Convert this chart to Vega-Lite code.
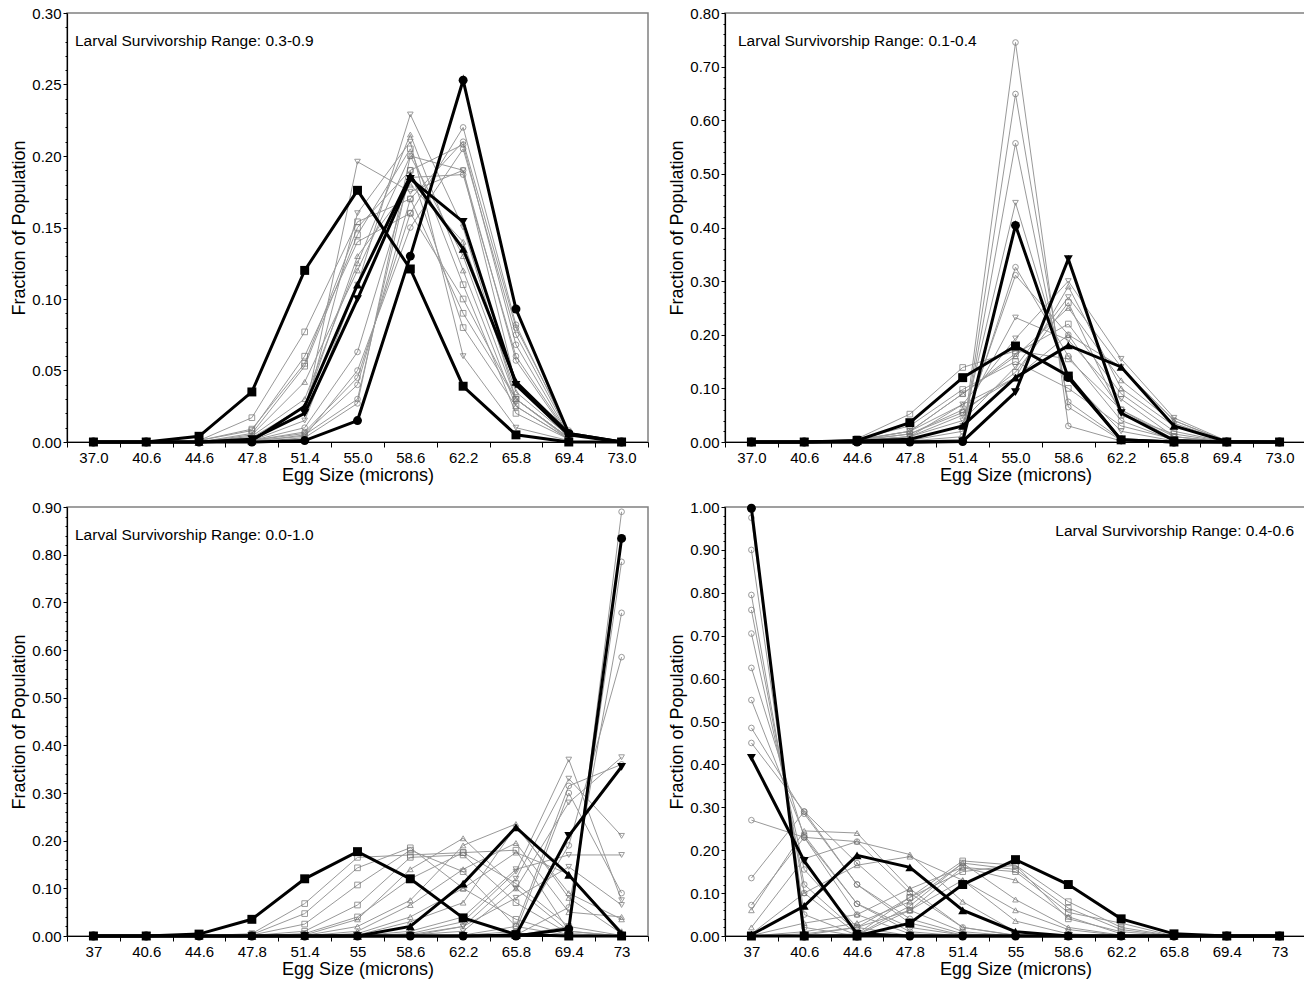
{
"$schema": "https://vega.github.io/schema/vega-lite/v6.json",
"padding": {"left": 10, "top": 5, "right": 0, "bottom": 0},
"autosize": {"type": "pad"},
"background": "white",
"config": {
  "font": "Liberation Sans",
  "view": {"stroke": "#808080", "strokeWidth": 1.5},
  "axis": {"grid": false, "labelFont": "Liberation Sans", "titleFont": "Liberation Sans", "labelFontSize": 15, "titleFontSize": 18, "titleFontWeight": "normal", "labelColor": "black", "titleColor": "black", "domainColor": "black", "tickColor": "black", "domainWidth": 1.2},
  "title": {"font": "Liberation Sans", "fontSize": 15.5, "fontWeight": "normal", "color": "black"}
},
"datasets": {
"TL": [
{"s":"g1","k":"g","m":"c","x":"44.6","y":0},{"s":"g1","k":"g","m":"c","x":"47.8","y":0.001},{"s":"g1","k":"g","m":"c","x":"51.4","y":0.007},{"s":"g1","k":"g","m":"c","x":"55.0","y":0.045},{"s":"g1","k":"g","m":"c","x":"58.6","y":0.16},{"s":"g1","k":"g","m":"c","x":"62.2","y":0.22},{"s":"g1","k":"g","m":"c","x":"65.8","y":0.082},{"s":"g1","k":"g","m":"c","x":"69.4","y":0.006},
{"s":"g2","k":"g","m":"c","x":"44.6","y":0},{"s":"g2","k":"g","m":"c","x":"47.8","y":0.001},{"s":"g2","k":"g","m":"c","x":"51.4","y":0.006},{"s":"g2","k":"g","m":"c","x":"55.0","y":0.04},{"s":"g2","k":"g","m":"c","x":"58.6","y":0.17},{"s":"g2","k":"g","m":"c","x":"62.2","y":0.21},{"s":"g2","k":"g","m":"c","x":"65.8","y":0.08},{"s":"g2","k":"g","m":"c","x":"69.4","y":0.008},
{"s":"g3","k":"g","m":"c","x":"44.6","y":0},{"s":"g3","k":"g","m":"c","x":"47.8","y":0},{"s":"g3","k":"g","m":"c","x":"51.4","y":0.005},{"s":"g3","k":"g","m":"c","x":"55.0","y":0.03},{"s":"g3","k":"g","m":"c","x":"58.6","y":0.19},{"s":"g3","k":"g","m":"c","x":"62.2","y":0.208},{"s":"g3","k":"g","m":"c","x":"65.8","y":0.068},{"s":"g3","k":"g","m":"c","x":"69.4","y":0.005},
{"s":"g4","k":"g","m":"c","x":"44.6","y":0},{"s":"g4","k":"g","m":"c","x":"47.8","y":0},{"s":"g4","k":"g","m":"c","x":"51.4","y":0.003},{"s":"g4","k":"g","m":"c","x":"55.0","y":0.027},{"s":"g4","k":"g","m":"c","x":"58.6","y":0.2},{"s":"g4","k":"g","m":"c","x":"62.2","y":0.19},{"s":"g4","k":"g","m":"c","x":"65.8","y":0.057},{"s":"g4","k":"g","m":"c","x":"69.4","y":0.004},
{"s":"g5","k":"g","m":"c","x":"44.6","y":0},{"s":"g5","k":"g","m":"c","x":"47.8","y":0.001},{"s":"g5","k":"g","m":"c","x":"51.4","y":0.01},{"s":"g5","k":"g","m":"c","x":"55.0","y":0.063},{"s":"g5","k":"g","m":"c","x":"58.6","y":0.185},{"s":"g5","k":"g","m":"c","x":"62.2","y":0.187},{"s":"g5","k":"g","m":"c","x":"65.8","y":0.06},{"s":"g5","k":"g","m":"c","x":"69.4","y":0.005},
{"s":"g6","k":"g","m":"c","x":"44.6","y":0},{"s":"g6","k":"g","m":"c","x":"47.8","y":0.001},{"s":"g6","k":"g","m":"c","x":"51.4","y":0.004},{"s":"g6","k":"g","m":"c","x":"55.0","y":0.05},{"s":"g6","k":"g","m":"c","x":"58.6","y":0.15},{"s":"g6","k":"g","m":"c","x":"62.2","y":0.205},{"s":"g6","k":"g","m":"c","x":"65.8","y":0.075},{"s":"g6","k":"g","m":"c","x":"69.4","y":0.006},
{"s":"g7","k":"g","m":"s","x":"44.6","y":0.001},{"s":"g7","k":"g","m":"s","x":"47.8","y":0.017},{"s":"g7","k":"g","m":"s","x":"51.4","y":0.077},{"s":"g7","k":"g","m":"s","x":"55.0","y":0.154},{"s":"g7","k":"g","m":"s","x":"58.6","y":0.17},{"s":"g7","k":"g","m":"s","x":"62.2","y":0.09},{"s":"g7","k":"g","m":"s","x":"65.8","y":0.03},{"s":"g7","k":"g","m":"s","x":"69.4","y":0.003},
{"s":"g8","k":"g","m":"s","x":"44.6","y":0.001},{"s":"g8","k":"g","m":"s","x":"47.8","y":0.009},{"s":"g8","k":"g","m":"s","x":"51.4","y":0.055},{"s":"g8","k":"g","m":"s","x":"55.0","y":0.15},{"s":"g8","k":"g","m":"s","x":"58.6","y":0.19},{"s":"g8","k":"g","m":"s","x":"62.2","y":0.08},{"s":"g8","k":"g","m":"s","x":"65.8","y":0.025},{"s":"g8","k":"g","m":"s","x":"69.4","y":0.002},
{"s":"g9","k":"g","m":"s","x":"44.6","y":0},{"s":"g9","k":"g","m":"s","x":"47.8","y":0.006},{"s":"g9","k":"g","m":"s","x":"51.4","y":0.053},{"s":"g9","k":"g","m":"s","x":"55.0","y":0.145},{"s":"g9","k":"g","m":"s","x":"58.6","y":0.205},{"s":"g9","k":"g","m":"s","x":"62.2","y":0.11},{"s":"g9","k":"g","m":"s","x":"65.8","y":0.02},{"s":"g9","k":"g","m":"s","x":"69.4","y":0.002},
{"s":"g10","k":"g","m":"s","x":"44.6","y":0.001},{"s":"g10","k":"g","m":"s","x":"47.8","y":0.008},{"s":"g10","k":"g","m":"s","x":"51.4","y":0.06},{"s":"g10","k":"g","m":"s","x":"55.0","y":0.14},{"s":"g10","k":"g","m":"s","x":"58.6","y":0.16},{"s":"g10","k":"g","m":"s","x":"62.2","y":0.1},{"s":"g10","k":"g","m":"s","x":"65.8","y":0.03},{"s":"g10","k":"g","m":"s","x":"69.4","y":0.003},
{"s":"g11","k":"g","m":"tu","x":"44.6","y":0},{"s":"g11","k":"g","m":"tu","x":"47.8","y":0.005},{"s":"g11","k":"g","m":"tu","x":"51.4","y":0.042},{"s":"g11","k":"g","m":"tu","x":"55.0","y":0.12},{"s":"g11","k":"g","m":"tu","x":"58.6","y":0.2},{"s":"g11","k":"g","m":"tu","x":"62.2","y":0.13},{"s":"g11","k":"g","m":"tu","x":"65.8","y":0.03},{"s":"g11","k":"g","m":"tu","x":"69.4","y":0.003},
{"s":"g12","k":"g","m":"tu","x":"44.6","y":0},{"s":"g12","k":"g","m":"tu","x":"47.8","y":0.004},{"s":"g12","k":"g","m":"tu","x":"51.4","y":0.03},{"s":"g12","k":"g","m":"tu","x":"55.0","y":0.125},{"s":"g12","k":"g","m":"tu","x":"58.6","y":0.215},{"s":"g12","k":"g","m":"tu","x":"62.2","y":0.12},{"s":"g12","k":"g","m":"tu","x":"65.8","y":0.025},{"s":"g12","k":"g","m":"tu","x":"69.4","y":0.002},
{"s":"g13","k":"g","m":"tu","x":"44.6","y":0},{"s":"g13","k":"g","m":"tu","x":"47.8","y":0.003},{"s":"g13","k":"g","m":"tu","x":"51.4","y":0.025},{"s":"g13","k":"g","m":"tu","x":"55.0","y":0.13},{"s":"g13","k":"g","m":"tu","x":"58.6","y":0.18},{"s":"g13","k":"g","m":"tu","x":"62.2","y":0.14},{"s":"g13","k":"g","m":"tu","x":"65.8","y":0.035},{"s":"g13","k":"g","m":"tu","x":"69.4","y":0.004},
{"s":"g14","k":"g","m":"td","x":"44.6","y":0},{"s":"g14","k":"g","m":"td","x":"47.8","y":0.003},{"s":"g14","k":"g","m":"td","x":"51.4","y":0.02},{"s":"g14","k":"g","m":"td","x":"55.0","y":0.196},{"s":"g14","k":"g","m":"td","x":"58.6","y":0.175},{"s":"g14","k":"g","m":"td","x":"62.2","y":0.19},{"s":"g14","k":"g","m":"td","x":"65.8","y":0.04},{"s":"g14","k":"g","m":"td","x":"69.4","y":0.003},
{"s":"g15","k":"g","m":"td","x":"44.6","y":0},{"s":"g15","k":"g","m":"td","x":"47.8","y":0.001},{"s":"g15","k":"g","m":"td","x":"51.4","y":0.015},{"s":"g15","k":"g","m":"td","x":"55.0","y":0.11},{"s":"g15","k":"g","m":"td","x":"58.6","y":0.229},{"s":"g15","k":"g","m":"td","x":"62.2","y":0.15},{"s":"g15","k":"g","m":"td","x":"65.8","y":0.03},{"s":"g15","k":"g","m":"td","x":"69.4","y":0.002},
{"s":"g16","k":"g","m":"td","x":"44.6","y":0},{"s":"g16","k":"g","m":"td","x":"47.8","y":0.002},{"s":"g16","k":"g","m":"td","x":"51.4","y":0.02},{"s":"g16","k":"g","m":"td","x":"55.0","y":0.16},{"s":"g16","k":"g","m":"td","x":"58.6","y":0.21},{"s":"g16","k":"g","m":"td","x":"62.2","y":0.06},{"s":"g16","k":"g","m":"td","x":"65.8","y":0.01},{"s":"g16","k":"g","m":"td","x":"69.4","y":0.001},
{"s":"Btd","k":"b","m":"td","x":"37.0","y":0},{"s":"Btd","k":"b","m":"td","x":"40.6","y":0},{"s":"Btd","k":"b","m":"td","x":"44.6","y":0},{"s":"Btd","k":"b","m":"td","x":"47.8","y":0.002},{"s":"Btd","k":"b","m":"td","x":"51.4","y":0.02},{"s":"Btd","k":"b","m":"td","x":"55.0","y":0.1},{"s":"Btd","k":"b","m":"td","x":"58.6","y":0.184},{"s":"Btd","k":"b","m":"td","x":"62.2","y":0.154},{"s":"Btd","k":"b","m":"td","x":"65.8","y":0.04},{"s":"Btd","k":"b","m":"td","x":"69.4","y":0.005},{"s":"Btd","k":"b","m":"td","x":"73.0","y":0},
{"s":"Btu","k":"b","m":"tu","x":"37.0","y":0},{"s":"Btu","k":"b","m":"tu","x":"40.6","y":0},{"s":"Btu","k":"b","m":"tu","x":"44.6","y":0},{"s":"Btu","k":"b","m":"tu","x":"47.8","y":0.001},{"s":"Btu","k":"b","m":"tu","x":"51.4","y":0.025},{"s":"Btu","k":"b","m":"tu","x":"55.0","y":0.11},{"s":"Btu","k":"b","m":"tu","x":"58.6","y":0.186},{"s":"Btu","k":"b","m":"tu","x":"62.2","y":0.135},{"s":"Btu","k":"b","m":"tu","x":"65.8","y":0.042},{"s":"Btu","k":"b","m":"tu","x":"69.4","y":0.006},{"s":"Btu","k":"b","m":"tu","x":"73.0","y":0},
{"s":"Bci","k":"b","m":"c","x":"37.0","y":0},{"s":"Bci","k":"b","m":"c","x":"40.6","y":0},{"s":"Bci","k":"b","m":"c","x":"44.6","y":0},{"s":"Bci","k":"b","m":"c","x":"47.8","y":0},{"s":"Bci","k":"b","m":"c","x":"51.4","y":0.001},{"s":"Bci","k":"b","m":"c","x":"55.0","y":0.015},{"s":"Bci","k":"b","m":"c","x":"58.6","y":0.13},{"s":"Bci","k":"b","m":"c","x":"62.2","y":0.253},{"s":"Bci","k":"b","m":"c","x":"65.8","y":0.093},{"s":"Bci","k":"b","m":"c","x":"69.4","y":0.006},{"s":"Bci","k":"b","m":"c","x":"73.0","y":0},
{"s":"Bsq","k":"b","m":"s","x":"37.0","y":0},{"s":"Bsq","k":"b","m":"s","x":"40.6","y":0},{"s":"Bsq","k":"b","m":"s","x":"44.6","y":0.004},{"s":"Bsq","k":"b","m":"s","x":"47.8","y":0.035},{"s":"Bsq","k":"b","m":"s","x":"51.4","y":0.12},{"s":"Bsq","k":"b","m":"s","x":"55.0","y":0.176},{"s":"Bsq","k":"b","m":"s","x":"58.6","y":0.121},{"s":"Bsq","k":"b","m":"s","x":"62.2","y":0.039},{"s":"Bsq","k":"b","m":"s","x":"65.8","y":0.005},{"s":"Bsq","k":"b","m":"s","x":"69.4","y":0},{"s":"Bsq","k":"b","m":"s","x":"73.0","y":0}
],
"TR": [
{"s":"c1","k":"g","m":"c","x":"44.6","y":0},{"s":"c1","k":"g","m":"c","x":"47.8","y":0.001},{"s":"c1","k":"g","m":"c","x":"51.4","y":0.005},{"s":"c1","k":"g","m":"c","x":"55.0","y":0.745},{"s":"c1","k":"g","m":"c","x":"58.6","y":0.03},{"s":"c1","k":"g","m":"c","x":"62.2","y":0.002},{"s":"c1","k":"g","m":"c","x":"65.8","y":0},{"s":"c1","k":"g","m":"c","x":"69.4","y":0},
{"s":"c2","k":"g","m":"c","x":"44.6","y":0},{"s":"c2","k":"g","m":"c","x":"47.8","y":0.001},{"s":"c2","k":"g","m":"c","x":"51.4","y":0.004},{"s":"c2","k":"g","m":"c","x":"55.0","y":0.649},{"s":"c2","k":"g","m":"c","x":"58.6","y":0.065},{"s":"c2","k":"g","m":"c","x":"62.2","y":0.003},{"s":"c2","k":"g","m":"c","x":"65.8","y":0},{"s":"c2","k":"g","m":"c","x":"69.4","y":0},
{"s":"c3","k":"g","m":"c","x":"44.6","y":0},{"s":"c3","k":"g","m":"c","x":"47.8","y":0.002},{"s":"c3","k":"g","m":"c","x":"51.4","y":0.01},{"s":"c3","k":"g","m":"c","x":"55.0","y":0.557},{"s":"c3","k":"g","m":"c","x":"58.6","y":0.075},{"s":"c3","k":"g","m":"c","x":"62.2","y":0.005},{"s":"c3","k":"g","m":"c","x":"65.8","y":0},{"s":"c3","k":"g","m":"c","x":"69.4","y":0},
{"s":"c4","k":"g","m":"c","x":"44.6","y":0},{"s":"c4","k":"g","m":"c","x":"47.8","y":0.003},{"s":"c4","k":"g","m":"c","x":"51.4","y":0.02},{"s":"c4","k":"g","m":"c","x":"55.0","y":0.326},{"s":"c4","k":"g","m":"c","x":"58.6","y":0.16},{"s":"c4","k":"g","m":"c","x":"62.2","y":0.04},{"s":"c4","k":"g","m":"c","x":"65.8","y":0.003},{"s":"c4","k":"g","m":"c","x":"69.4","y":0},
{"s":"c5","k":"g","m":"c","x":"44.6","y":0},{"s":"c5","k":"g","m":"c","x":"47.8","y":0.004},{"s":"c5","k":"g","m":"c","x":"51.4","y":0.03},{"s":"c5","k":"g","m":"c","x":"55.0","y":0.311},{"s":"c5","k":"g","m":"c","x":"58.6","y":0.2},{"s":"c5","k":"g","m":"c","x":"62.2","y":0.06},{"s":"c5","k":"g","m":"c","x":"65.8","y":0.005},{"s":"c5","k":"g","m":"c","x":"69.4","y":0},
{"s":"d1","k":"g","m":"td","x":"44.6","y":0.001},{"s":"d1","k":"g","m":"td","x":"47.8","y":0.005},{"s":"d1","k":"g","m":"td","x":"51.4","y":0.03},{"s":"d1","k":"g","m":"td","x":"55.0","y":0.446},{"s":"d1","k":"g","m":"td","x":"58.6","y":0.12},{"s":"d1","k":"g","m":"td","x":"62.2","y":0.02},{"s":"d1","k":"g","m":"td","x":"65.8","y":0.002},{"s":"d1","k":"g","m":"td","x":"69.4","y":0},
{"s":"d2","k":"g","m":"td","x":"44.6","y":0.002},{"s":"d2","k":"g","m":"td","x":"47.8","y":0.01},{"s":"d2","k":"g","m":"td","x":"51.4","y":0.05},{"s":"d2","k":"g","m":"td","x":"55.0","y":0.232},{"s":"d2","k":"g","m":"td","x":"58.6","y":0.19},{"s":"d2","k":"g","m":"td","x":"62.2","y":0.08},{"s":"d2","k":"g","m":"td","x":"65.8","y":0.01},{"s":"d2","k":"g","m":"td","x":"69.4","y":0},
{"s":"d3","k":"g","m":"td","x":"44.6","y":0.003},{"s":"d3","k":"g","m":"td","x":"47.8","y":0.02},{"s":"d3","k":"g","m":"td","x":"51.4","y":0.07},{"s":"d3","k":"g","m":"td","x":"55.0","y":0.193},{"s":"d3","k":"g","m":"td","x":"58.6","y":0.3},{"s":"d3","k":"g","m":"td","x":"62.2","y":0.155},{"s":"d3","k":"g","m":"td","x":"65.8","y":0.045},{"s":"d3","k":"g","m":"td","x":"69.4","y":0.002},
{"s":"d4","k":"g","m":"td","x":"44.6","y":0.002},{"s":"d4","k":"g","m":"td","x":"47.8","y":0.01},{"s":"d4","k":"g","m":"td","x":"51.4","y":0.04},{"s":"d4","k":"g","m":"td","x":"55.0","y":0.14},{"s":"d4","k":"g","m":"td","x":"58.6","y":0.27},{"s":"d4","k":"g","m":"td","x":"62.2","y":0.14},{"s":"d4","k":"g","m":"td","x":"65.8","y":0.04},{"s":"d4","k":"g","m":"td","x":"69.4","y":0.001},
{"s":"u1","k":"g","m":"tu","x":"44.6","y":0.004},{"s":"u1","k":"g","m":"tu","x":"47.8","y":0.02},{"s":"u1","k":"g","m":"tu","x":"51.4","y":0.09},{"s":"u1","k":"g","m":"tu","x":"55.0","y":0.16},{"s":"u1","k":"g","m":"tu","x":"58.6","y":0.25},{"s":"u1","k":"g","m":"tu","x":"62.2","y":0.115},{"s":"u1","k":"g","m":"tu","x":"65.8","y":0.035},{"s":"u1","k":"g","m":"tu","x":"69.4","y":0.001},
{"s":"u2","k":"g","m":"tu","x":"44.6","y":0.003},{"s":"u2","k":"g","m":"tu","x":"47.8","y":0.015},{"s":"u2","k":"g","m":"tu","x":"51.4","y":0.06},{"s":"u2","k":"g","m":"tu","x":"55.0","y":0.12},{"s":"u2","k":"g","m":"tu","x":"58.6","y":0.29},{"s":"u2","k":"g","m":"tu","x":"62.2","y":0.1},{"s":"u2","k":"g","m":"tu","x":"65.8","y":0.03},{"s":"u2","k":"g","m":"tu","x":"69.4","y":0},
{"s":"u3","k":"g","m":"tu","x":"44.6","y":0.002},{"s":"u3","k":"g","m":"tu","x":"47.8","y":0.01},{"s":"u3","k":"g","m":"tu","x":"51.4","y":0.07},{"s":"u3","k":"g","m":"tu","x":"55.0","y":0.12},{"s":"u3","k":"g","m":"tu","x":"58.6","y":0.2},{"s":"u3","k":"g","m":"tu","x":"62.2","y":0.14},{"s":"u3","k":"g","m":"tu","x":"65.8","y":0.04},{"s":"u3","k":"g","m":"tu","x":"69.4","y":0.001},
{"s":"q1","k":"g","m":"s","x":"44.6","y":0.006},{"s":"q1","k":"g","m":"s","x":"47.8","y":0.052},{"s":"q1","k":"g","m":"s","x":"51.4","y":0.139},{"s":"q1","k":"g","m":"s","x":"55.0","y":0.17},{"s":"q1","k":"g","m":"s","x":"58.6","y":0.155},{"s":"q1","k":"g","m":"s","x":"62.2","y":0.06},{"s":"q1","k":"g","m":"s","x":"65.8","y":0.01},{"s":"q1","k":"g","m":"s","x":"69.4","y":0},
{"s":"q2","k":"g","m":"s","x":"44.6","y":0.005},{"s":"q2","k":"g","m":"s","x":"47.8","y":0.03},{"s":"q2","k":"g","m":"s","x":"51.4","y":0.098},{"s":"q2","k":"g","m":"s","x":"55.0","y":0.15},{"s":"q2","k":"g","m":"s","x":"58.6","y":0.1},{"s":"q2","k":"g","m":"s","x":"62.2","y":0.03},{"s":"q2","k":"g","m":"s","x":"65.8","y":0.005},{"s":"q2","k":"g","m":"s","x":"69.4","y":0},
{"s":"q3","k":"g","m":"s","x":"44.6","y":0.004},{"s":"q3","k":"g","m":"s","x":"47.8","y":0.02},{"s":"q3","k":"g","m":"s","x":"51.4","y":0.09},{"s":"q3","k":"g","m":"s","x":"55.0","y":0.165},{"s":"q3","k":"g","m":"s","x":"58.6","y":0.22},{"s":"q3","k":"g","m":"s","x":"62.2","y":0.09},{"s":"q3","k":"g","m":"s","x":"65.8","y":0.02},{"s":"q3","k":"g","m":"s","x":"69.4","y":0},
{"s":"q4","k":"g","m":"s","x":"44.6","y":0.003},{"s":"q4","k":"g","m":"s","x":"47.8","y":0.015},{"s":"q4","k":"g","m":"s","x":"51.4","y":0.055},{"s":"q4","k":"g","m":"s","x":"55.0","y":0.13},{"s":"q4","k":"g","m":"s","x":"58.6","y":0.26},{"s":"q4","k":"g","m":"s","x":"62.2","y":0.05},{"s":"q4","k":"g","m":"s","x":"65.8","y":0.015},{"s":"q4","k":"g","m":"s","x":"69.4","y":0},
{"s":"Btu","k":"b","m":"tu","x":"37.0","y":0},{"s":"Btu","k":"b","m":"tu","x":"40.6","y":0},{"s":"Btu","k":"b","m":"tu","x":"44.6","y":0.002},{"s":"Btu","k":"b","m":"tu","x":"47.8","y":0.005},{"s":"Btu","k":"b","m":"tu","x":"51.4","y":0.03},{"s":"Btu","k":"b","m":"tu","x":"55.0","y":0.12},{"s":"Btu","k":"b","m":"tu","x":"58.6","y":0.18},{"s":"Btu","k":"b","m":"tu","x":"62.2","y":0.14},{"s":"Btu","k":"b","m":"tu","x":"65.8","y":0.03},{"s":"Btu","k":"b","m":"tu","x":"69.4","y":0.001},{"s":"Btu","k":"b","m":"tu","x":"73.0","y":0},
{"s":"Btd","k":"b","m":"td","x":"37.0","y":0},{"s":"Btd","k":"b","m":"td","x":"40.6","y":0},{"s":"Btd","k":"b","m":"td","x":"44.6","y":0},{"s":"Btd","k":"b","m":"td","x":"47.8","y":0},{"s":"Btd","k":"b","m":"td","x":"51.4","y":0.001},{"s":"Btd","k":"b","m":"td","x":"55.0","y":0.093},{"s":"Btd","k":"b","m":"td","x":"58.6","y":0.341},{"s":"Btd","k":"b","m":"td","x":"62.2","y":0.054},{"s":"Btd","k":"b","m":"td","x":"65.8","y":0.003},{"s":"Btd","k":"b","m":"td","x":"69.4","y":0},{"s":"Btd","k":"b","m":"td","x":"73.0","y":0},
{"s":"Bci","k":"b","m":"c","x":"37.0","y":0},{"s":"Bci","k":"b","m":"c","x":"40.6","y":0},{"s":"Bci","k":"b","m":"c","x":"44.6","y":0},{"s":"Bci","k":"b","m":"c","x":"47.8","y":0},{"s":"Bci","k":"b","m":"c","x":"51.4","y":0.001},{"s":"Bci","k":"b","m":"c","x":"55.0","y":0.404},{"s":"Bci","k":"b","m":"c","x":"58.6","y":0.12},{"s":"Bci","k":"b","m":"c","x":"62.2","y":0.004},{"s":"Bci","k":"b","m":"c","x":"65.8","y":0},{"s":"Bci","k":"b","m":"c","x":"69.4","y":0},{"s":"Bci","k":"b","m":"c","x":"73.0","y":0},
{"s":"Bsq","k":"b","m":"s","x":"37.0","y":0},{"s":"Bsq","k":"b","m":"s","x":"40.6","y":0},{"s":"Bsq","k":"b","m":"s","x":"44.6","y":0.003},{"s":"Bsq","k":"b","m":"s","x":"47.8","y":0.036},{"s":"Bsq","k":"b","m":"s","x":"51.4","y":0.12},{"s":"Bsq","k":"b","m":"s","x":"55.0","y":0.179},{"s":"Bsq","k":"b","m":"s","x":"58.6","y":0.123},{"s":"Bsq","k":"b","m":"s","x":"62.2","y":0.004},{"s":"Bsq","k":"b","m":"s","x":"65.8","y":0},{"s":"Bsq","k":"b","m":"s","x":"69.4","y":0},{"s":"Bsq","k":"b","m":"s","x":"73.0","y":0}
],
"BL": [
{"s":"q1","k":"g","m":"s","x":"44.6","y":0},{"s":"q1","k":"g","m":"s","x":"47.8","y":0.005},{"s":"q1","k":"g","m":"s","x":"51.4","y":0.068},{"s":"q1","k":"g","m":"s","x":"55","y":0.165},{"s":"q1","k":"g","m":"s","x":"58.6","y":0.17},{"s":"q1","k":"g","m":"s","x":"62.2","y":0.175},{"s":"q1","k":"g","m":"s","x":"65.8","y":0.18},{"s":"q1","k":"g","m":"s","x":"69.4","y":0.01},{"s":"q1","k":"g","m":"s","x":"73","y":0},
{"s":"q2","k":"g","m":"s","x":"44.6","y":0},{"s":"q2","k":"g","m":"s","x":"47.8","y":0.003},{"s":"q2","k":"g","m":"s","x":"51.4","y":0.047},{"s":"q2","k":"g","m":"s","x":"55","y":0.143},{"s":"q2","k":"g","m":"s","x":"58.6","y":0.185},{"s":"q2","k":"g","m":"s","x":"62.2","y":0.1},{"s":"q2","k":"g","m":"s","x":"65.8","y":0.035},{"s":"q2","k":"g","m":"s","x":"69.4","y":0.002},{"s":"q2","k":"g","m":"s","x":"73","y":0},
{"s":"q3","k":"g","m":"s","x":"44.6","y":0},{"s":"q3","k":"g","m":"s","x":"47.8","y":0.002},{"s":"q3","k":"g","m":"s","x":"51.4","y":0.025},{"s":"q3","k":"g","m":"s","x":"55","y":0.107},{"s":"q3","k":"g","m":"s","x":"58.6","y":0.18},{"s":"q3","k":"g","m":"s","x":"62.2","y":0.135},{"s":"q3","k":"g","m":"s","x":"65.8","y":0.02},{"s":"q3","k":"g","m":"s","x":"69.4","y":0.001},{"s":"q3","k":"g","m":"s","x":"73","y":0},
{"s":"q4","k":"g","m":"s","x":"44.6","y":0},{"s":"q4","k":"g","m":"s","x":"47.8","y":0.001},{"s":"q4","k":"g","m":"s","x":"51.4","y":0.01},{"s":"q4","k":"g","m":"s","x":"55","y":0.065},{"s":"q4","k":"g","m":"s","x":"58.6","y":0.165},{"s":"q4","k":"g","m":"s","x":"62.2","y":0.17},{"s":"q4","k":"g","m":"s","x":"65.8","y":0.07},{"s":"q4","k":"g","m":"s","x":"69.4","y":0.005},{"s":"q4","k":"g","m":"s","x":"73","y":0},
{"s":"q5","k":"g","m":"s","x":"44.6","y":0},{"s":"q5","k":"g","m":"s","x":"47.8","y":0},{"s":"q5","k":"g","m":"s","x":"51.4","y":0.005},{"s":"q5","k":"g","m":"s","x":"55","y":0.04},{"s":"q5","k":"g","m":"s","x":"58.6","y":0.12},{"s":"q5","k":"g","m":"s","x":"62.2","y":0.175},{"s":"q5","k":"g","m":"s","x":"65.8","y":0.11},{"s":"q5","k":"g","m":"s","x":"69.4","y":0.02},{"s":"q5","k":"g","m":"s","x":"73","y":0.001},
{"s":"u1","k":"g","m":"tu","x":"44.6","y":0},{"s":"u1","k":"g","m":"tu","x":"47.8","y":0},{"s":"u1","k":"g","m":"tu","x":"51.4","y":0.002},{"s":"u1","k":"g","m":"tu","x":"55","y":0.035},{"s":"u1","k":"g","m":"tu","x":"58.6","y":0.14},{"s":"u1","k":"g","m":"tu","x":"62.2","y":0.205},{"s":"u1","k":"g","m":"tu","x":"65.8","y":0.1},{"s":"u1","k":"g","m":"tu","x":"69.4","y":0.01},{"s":"u1","k":"g","m":"tu","x":"73","y":0},
{"s":"u2","k":"g","m":"tu","x":"44.6","y":0},{"s":"u2","k":"g","m":"tu","x":"47.8","y":0},{"s":"u2","k":"g","m":"tu","x":"51.4","y":0.001},{"s":"u2","k":"g","m":"tu","x":"55","y":0.02},{"s":"u2","k":"g","m":"tu","x":"58.6","y":0.075},{"s":"u2","k":"g","m":"tu","x":"62.2","y":0.19},{"s":"u2","k":"g","m":"tu","x":"65.8","y":0.235},{"s":"u2","k":"g","m":"tu","x":"69.4","y":0.08},{"s":"u2","k":"g","m":"tu","x":"73","y":0.005},
{"s":"u3","k":"g","m":"tu","x":"44.6","y":0},{"s":"u3","k":"g","m":"tu","x":"47.8","y":0},{"s":"u3","k":"g","m":"tu","x":"51.4","y":0},{"s":"u3","k":"g","m":"tu","x":"55","y":0.01},{"s":"u3","k":"g","m":"tu","x":"58.6","y":0.065},{"s":"u3","k":"g","m":"tu","x":"62.2","y":0.14},{"s":"u3","k":"g","m":"tu","x":"65.8","y":0.195},{"s":"u3","k":"g","m":"tu","x":"69.4","y":0.05},{"s":"u3","k":"g","m":"tu","x":"73","y":0.04},
{"s":"u4","k":"g","m":"tu","x":"44.6","y":0},{"s":"u4","k":"g","m":"tu","x":"47.8","y":0},{"s":"u4","k":"g","m":"tu","x":"51.4","y":0},{"s":"u4","k":"g","m":"tu","x":"55","y":0.005},{"s":"u4","k":"g","m":"tu","x":"58.6","y":0.04},{"s":"u4","k":"g","m":"tu","x":"62.2","y":0.1},{"s":"u4","k":"g","m":"tu","x":"65.8","y":0.175},{"s":"u4","k":"g","m":"tu","x":"69.4","y":0.13},{"s":"u4","k":"g","m":"tu","x":"73","y":0.01},
{"s":"u5","k":"g","m":"tu","x":"44.6","y":0},{"s":"u5","k":"g","m":"tu","x":"47.8","y":0},{"s":"u5","k":"g","m":"tu","x":"51.4","y":0},{"s":"u5","k":"g","m":"tu","x":"55","y":0.002},{"s":"u5","k":"g","m":"tu","x":"58.6","y":0.03},{"s":"u5","k":"g","m":"tu","x":"62.2","y":0.07},{"s":"u5","k":"g","m":"tu","x":"65.8","y":0.23},{"s":"u5","k":"g","m":"tu","x":"69.4","y":0.09},{"s":"u5","k":"g","m":"tu","x":"73","y":0.035},
{"s":"d1","k":"g","m":"td","x":"44.6","y":0},{"s":"d1","k":"g","m":"td","x":"47.8","y":0},{"s":"d1","k":"g","m":"td","x":"51.4","y":0},{"s":"d1","k":"g","m":"td","x":"55","y":0},{"s":"d1","k":"g","m":"td","x":"58.6","y":0.005},{"s":"d1","k":"g","m":"td","x":"62.2","y":0.03},{"s":"d1","k":"g","m":"td","x":"65.8","y":0.135},{"s":"d1","k":"g","m":"td","x":"69.4","y":0.37},{"s":"d1","k":"g","m":"td","x":"73","y":0.075},
{"s":"d2","k":"g","m":"td","x":"44.6","y":0},{"s":"d2","k":"g","m":"td","x":"47.8","y":0},{"s":"d2","k":"g","m":"td","x":"51.4","y":0},{"s":"d2","k":"g","m":"td","x":"55","y":0},{"s":"d2","k":"g","m":"td","x":"58.6","y":0.003},{"s":"d2","k":"g","m":"td","x":"62.2","y":0.02},{"s":"d2","k":"g","m":"td","x":"65.8","y":0.12},{"s":"d2","k":"g","m":"td","x":"69.4","y":0.33},{"s":"d2","k":"g","m":"td","x":"73","y":0.21},
{"s":"d3","k":"g","m":"td","x":"44.6","y":0},{"s":"d3","k":"g","m":"td","x":"47.8","y":0},{"s":"d3","k":"g","m":"td","x":"51.4","y":0},{"s":"d3","k":"g","m":"td","x":"55","y":0},{"s":"d3","k":"g","m":"td","x":"58.6","y":0.002},{"s":"d3","k":"g","m":"td","x":"62.2","y":0.01},{"s":"d3","k":"g","m":"td","x":"65.8","y":0.1},{"s":"d3","k":"g","m":"td","x":"69.4","y":0.28},{"s":"d3","k":"g","m":"td","x":"73","y":0.375},
{"s":"d4","k":"g","m":"td","x":"44.6","y":0},{"s":"d4","k":"g","m":"td","x":"47.8","y":0},{"s":"d4","k":"g","m":"td","x":"51.4","y":0},{"s":"d4","k":"g","m":"td","x":"55","y":0},{"s":"d4","k":"g","m":"td","x":"58.6","y":0.01},{"s":"d4","k":"g","m":"td","x":"62.2","y":0.04},{"s":"d4","k":"g","m":"td","x":"65.8","y":0.14},{"s":"d4","k":"g","m":"td","x":"69.4","y":0.17},{"s":"d4","k":"g","m":"td","x":"73","y":0.17},
{"s":"d5","k":"g","m":"td","x":"44.6","y":0},{"s":"d5","k":"g","m":"td","x":"47.8","y":0},{"s":"d5","k":"g","m":"td","x":"51.4","y":0},{"s":"d5","k":"g","m":"td","x":"55","y":0},{"s":"d5","k":"g","m":"td","x":"58.6","y":0},{"s":"d5","k":"g","m":"td","x":"62.2","y":0.02},{"s":"d5","k":"g","m":"td","x":"65.8","y":0.08},{"s":"d5","k":"g","m":"td","x":"69.4","y":0.145},{"s":"d5","k":"g","m":"td","x":"73","y":0.065},
{"s":"c1","k":"g","m":"c","x":"58.6","y":0},{"s":"c1","k":"g","m":"c","x":"62.2","y":0.002},{"s":"c1","k":"g","m":"c","x":"65.8","y":0.02},{"s":"c1","k":"g","m":"c","x":"69.4","y":0.315},{"s":"c1","k":"g","m":"c","x":"73","y":0.36},
{"s":"c2","k":"g","m":"c","x":"58.6","y":0},{"s":"c2","k":"g","m":"c","x":"62.2","y":0.001},{"s":"c2","k":"g","m":"c","x":"65.8","y":0.01},{"s":"c2","k":"g","m":"c","x":"69.4","y":0.3},{"s":"c2","k":"g","m":"c","x":"73","y":0.09},
{"s":"c3","k":"g","m":"c","x":"58.6","y":0},{"s":"c3","k":"g","m":"c","x":"62.2","y":0},{"s":"c3","k":"g","m":"c","x":"65.8","y":0.005},{"s":"c3","k":"g","m":"c","x":"69.4","y":0.19},{"s":"c3","k":"g","m":"c","x":"73","y":0.585},
{"s":"c4","k":"g","m":"c","x":"58.6","y":0},{"s":"c4","k":"g","m":"c","x":"62.2","y":0},{"s":"c4","k":"g","m":"c","x":"65.8","y":0.002},{"s":"c4","k":"g","m":"c","x":"69.4","y":0.06},{"s":"c4","k":"g","m":"c","x":"73","y":0.678},
{"s":"c5","k":"g","m":"c","x":"58.6","y":0},{"s":"c5","k":"g","m":"c","x":"62.2","y":0},{"s":"c5","k":"g","m":"c","x":"65.8","y":0.001},{"s":"c5","k":"g","m":"c","x":"69.4","y":0.02},{"s":"c5","k":"g","m":"c","x":"73","y":0.785},
{"s":"c6","k":"g","m":"c","x":"58.6","y":0},{"s":"c6","k":"g","m":"c","x":"62.2","y":0},{"s":"c6","k":"g","m":"c","x":"65.8","y":0},{"s":"c6","k":"g","m":"c","x":"69.4","y":0.005},{"s":"c6","k":"g","m":"c","x":"73","y":0.89},
{"s":"Btu","k":"b","m":"tu","x":"37","y":0},{"s":"Btu","k":"b","m":"tu","x":"40.6","y":0},{"s":"Btu","k":"b","m":"tu","x":"44.6","y":0},{"s":"Btu","k":"b","m":"tu","x":"47.8","y":0},{"s":"Btu","k":"b","m":"tu","x":"51.4","y":0},{"s":"Btu","k":"b","m":"tu","x":"55","y":0},{"s":"Btu","k":"b","m":"tu","x":"58.6","y":0.02},{"s":"Btu","k":"b","m":"tu","x":"62.2","y":0.11},{"s":"Btu","k":"b","m":"tu","x":"65.8","y":0.228},{"s":"Btu","k":"b","m":"tu","x":"69.4","y":0.128},{"s":"Btu","k":"b","m":"tu","x":"73","y":0.005},
{"s":"Btd","k":"b","m":"td","x":"37","y":0},{"s":"Btd","k":"b","m":"td","x":"40.6","y":0},{"s":"Btd","k":"b","m":"td","x":"44.6","y":0},{"s":"Btd","k":"b","m":"td","x":"47.8","y":0},{"s":"Btd","k":"b","m":"td","x":"51.4","y":0},{"s":"Btd","k":"b","m":"td","x":"55","y":0},{"s":"Btd","k":"b","m":"td","x":"58.6","y":0},{"s":"Btd","k":"b","m":"td","x":"62.2","y":0},{"s":"Btd","k":"b","m":"td","x":"65.8","y":0.002},{"s":"Btd","k":"b","m":"td","x":"69.4","y":0.21},{"s":"Btd","k":"b","m":"td","x":"73","y":0.355},
{"s":"Bci","k":"b","m":"c","x":"37","y":0},{"s":"Bci","k":"b","m":"c","x":"40.6","y":0},{"s":"Bci","k":"b","m":"c","x":"44.6","y":0},{"s":"Bci","k":"b","m":"c","x":"47.8","y":0},{"s":"Bci","k":"b","m":"c","x":"51.4","y":0},{"s":"Bci","k":"b","m":"c","x":"55","y":0},{"s":"Bci","k":"b","m":"c","x":"58.6","y":0},{"s":"Bci","k":"b","m":"c","x":"62.2","y":0},{"s":"Bci","k":"b","m":"c","x":"65.8","y":0},{"s":"Bci","k":"b","m":"c","x":"69.4","y":0.015},{"s":"Bci","k":"b","m":"c","x":"73","y":0.834},
{"s":"Bsq","k":"b","m":"s","x":"37","y":0},{"s":"Bsq","k":"b","m":"s","x":"40.6","y":0},{"s":"Bsq","k":"b","m":"s","x":"44.6","y":0.004},{"s":"Bsq","k":"b","m":"s","x":"47.8","y":0.035},{"s":"Bsq","k":"b","m":"s","x":"51.4","y":0.12},{"s":"Bsq","k":"b","m":"s","x":"55","y":0.177},{"s":"Bsq","k":"b","m":"s","x":"58.6","y":0.12},{"s":"Bsq","k":"b","m":"s","x":"62.2","y":0.038},{"s":"Bsq","k":"b","m":"s","x":"65.8","y":0.003},{"s":"Bsq","k":"b","m":"s","x":"69.4","y":0},{"s":"Bsq","k":"b","m":"s","x":"73","y":0}
],
"BR": [
{"s":"c1","k":"g","m":"c","x":"37","y":0.975},{"s":"c1","k":"g","m":"c","x":"40.6","y":0.02},{"s":"c1","k":"g","m":"c","x":"44.6","y":0},
{"s":"c2","k":"g","m":"c","x":"37","y":0.9},{"s":"c2","k":"g","m":"c","x":"40.6","y":0.05},{"s":"c2","k":"g","m":"c","x":"44.6","y":0.002},{"s":"c2","k":"g","m":"c","x":"47.8","y":0},
{"s":"c3","k":"g","m":"c","x":"37","y":0.795},{"s":"c3","k":"g","m":"c","x":"40.6","y":0.1},{"s":"c3","k":"g","m":"c","x":"44.6","y":0.005},{"s":"c3","k":"g","m":"c","x":"47.8","y":0},
{"s":"c4","k":"g","m":"c","x":"37","y":0.76},{"s":"c4","k":"g","m":"c","x":"40.6","y":0.12},{"s":"c4","k":"g","m":"c","x":"44.6","y":0.01},{"s":"c4","k":"g","m":"c","x":"47.8","y":0},
{"s":"c5","k":"g","m":"c","x":"37","y":0.705},{"s":"c5","k":"g","m":"c","x":"40.6","y":0.155},{"s":"c5","k":"g","m":"c","x":"44.6","y":0.02},{"s":"c5","k":"g","m":"c","x":"47.8","y":0.001},{"s":"c5","k":"g","m":"c","x":"51.4","y":0},
{"s":"c6","k":"g","m":"c","x":"37","y":0.625},{"s":"c6","k":"g","m":"c","x":"40.6","y":0.23},{"s":"c6","k":"g","m":"c","x":"44.6","y":0.05},{"s":"c6","k":"g","m":"c","x":"47.8","y":0.005},{"s":"c6","k":"g","m":"c","x":"51.4","y":0},
{"s":"c7","k":"g","m":"c","x":"37","y":0.55},{"s":"c7","k":"g","m":"c","x":"40.6","y":0.235},{"s":"c7","k":"g","m":"c","x":"44.6","y":0.075},{"s":"c7","k":"g","m":"c","x":"47.8","y":0.01},{"s":"c7","k":"g","m":"c","x":"51.4","y":0},
{"s":"c8","k":"g","m":"c","x":"37","y":0.485},{"s":"c8","k":"g","m":"c","x":"40.6","y":0.285},{"s":"c8","k":"g","m":"c","x":"44.6","y":0.12},{"s":"c8","k":"g","m":"c","x":"47.8","y":0.03},{"s":"c8","k":"g","m":"c","x":"51.4","y":0.002},{"s":"c8","k":"g","m":"c","x":"55","y":0},
{"s":"c9","k":"g","m":"c","x":"37","y":0.45},{"s":"c9","k":"g","m":"c","x":"40.6","y":0.29},{"s":"c9","k":"g","m":"c","x":"44.6","y":0.12},{"s":"c9","k":"g","m":"c","x":"47.8","y":0.04},{"s":"c9","k":"g","m":"c","x":"51.4","y":0.005},{"s":"c9","k":"g","m":"c","x":"55","y":0},
{"s":"c10","k":"g","m":"c","x":"37","y":0.27},{"s":"c10","k":"g","m":"c","x":"40.6","y":0.23},{"s":"c10","k":"g","m":"c","x":"44.6","y":0.075},{"s":"c10","k":"g","m":"c","x":"47.8","y":0.02},{"s":"c10","k":"g","m":"c","x":"51.4","y":0.002},{"s":"c10","k":"g","m":"c","x":"55","y":0},
{"s":"c11","k":"g","m":"c","x":"37","y":0.135},{"s":"c11","k":"g","m":"c","x":"40.6","y":0.29},{"s":"c11","k":"g","m":"c","x":"44.6","y":0.17},{"s":"c11","k":"g","m":"c","x":"47.8","y":0.06},{"s":"c11","k":"g","m":"c","x":"51.4","y":0.01},{"s":"c11","k":"g","m":"c","x":"55","y":0},
{"s":"c12","k":"g","m":"c","x":"37","y":0.072},{"s":"c12","k":"g","m":"c","x":"40.6","y":0.23},{"s":"c12","k":"g","m":"c","x":"44.6","y":0.22},{"s":"c12","k":"g","m":"c","x":"47.8","y":0.1},{"s":"c12","k":"g","m":"c","x":"51.4","y":0.02},{"s":"c12","k":"g","m":"c","x":"55","y":0.001},
{"s":"u1","k":"g","m":"tu","x":"37","y":0.06},{"s":"u1","k":"g","m":"tu","x":"40.6","y":0.245},{"s":"u1","k":"g","m":"tu","x":"44.6","y":0.24},{"s":"u1","k":"g","m":"tu","x":"47.8","y":0.11},{"s":"u1","k":"g","m":"tu","x":"51.4","y":0.02},{"s":"u1","k":"g","m":"tu","x":"55","y":0.002},{"s":"u1","k":"g","m":"tu","x":"58.6","y":0},
{"s":"u2","k":"g","m":"tu","x":"37","y":0.02},{"s":"u2","k":"g","m":"tu","x":"40.6","y":0.18},{"s":"u2","k":"g","m":"tu","x":"44.6","y":0.22},{"s":"u2","k":"g","m":"tu","x":"47.8","y":0.19},{"s":"u2","k":"g","m":"tu","x":"51.4","y":0.08},{"s":"u2","k":"g","m":"tu","x":"55","y":0.01},{"s":"u2","k":"g","m":"tu","x":"58.6","y":0},
{"s":"u3","k":"g","m":"tu","x":"37","y":0.005},{"s":"u3","k":"g","m":"tu","x":"40.6","y":0.1},{"s":"u3","k":"g","m":"tu","x":"44.6","y":0.165},{"s":"u3","k":"g","m":"tu","x":"47.8","y":0.185},{"s":"u3","k":"g","m":"tu","x":"51.4","y":0.13},{"s":"u3","k":"g","m":"tu","x":"55","y":0.035},{"s":"u3","k":"g","m":"tu","x":"58.6","y":0.005},{"s":"u3","k":"g","m":"tu","x":"62.2","y":0},
{"s":"u4","k":"g","m":"tu","x":"37","y":0.001},{"s":"u4","k":"g","m":"tu","x":"40.6","y":0.03},{"s":"u4","k":"g","m":"tu","x":"44.6","y":0.05},{"s":"u4","k":"g","m":"tu","x":"47.8","y":0.11},{"s":"u4","k":"g","m":"tu","x":"51.4","y":0.16},{"s":"u4","k":"g","m":"tu","x":"55","y":0.13},{"s":"u4","k":"g","m":"tu","x":"58.6","y":0.045},{"s":"u4","k":"g","m":"tu","x":"62.2","y":0.005},
{"s":"u5","k":"g","m":"tu","x":"37","y":0},{"s":"u5","k":"g","m":"tu","x":"40.6","y":0.01},{"s":"u5","k":"g","m":"tu","x":"44.6","y":0.03},{"s":"u5","k":"g","m":"tu","x":"47.8","y":0.08},{"s":"u5","k":"g","m":"tu","x":"51.4","y":0.17},{"s":"u5","k":"g","m":"tu","x":"55","y":0.085},{"s":"u5","k":"g","m":"tu","x":"58.6","y":0.02},{"s":"u5","k":"g","m":"tu","x":"62.2","y":0.002},
{"s":"u6","k":"g","m":"tu","x":"37","y":0},{"s":"u6","k":"g","m":"tu","x":"40.6","y":0.005},{"s":"u6","k":"g","m":"tu","x":"44.6","y":0.02},{"s":"u6","k":"g","m":"tu","x":"47.8","y":0.06},{"s":"u6","k":"g","m":"tu","x":"51.4","y":0.13},{"s":"u6","k":"g","m":"tu","x":"55","y":0.06},{"s":"u6","k":"g","m":"tu","x":"58.6","y":0.015},{"s":"u6","k":"g","m":"tu","x":"62.2","y":0.001},
{"s":"q1","k":"g","m":"s","x":"40.6","y":0},{"s":"q1","k":"g","m":"s","x":"44.6","y":0.005},{"s":"q1","k":"g","m":"s","x":"47.8","y":0.09},{"s":"q1","k":"g","m":"s","x":"51.4","y":0.175},{"s":"q1","k":"g","m":"s","x":"55","y":0.165},{"s":"q1","k":"g","m":"s","x":"58.6","y":0.08},{"s":"q1","k":"g","m":"s","x":"62.2","y":0.02},{"s":"q1","k":"g","m":"s","x":"65.8","y":0},
{"s":"q2","k":"g","m":"s","x":"40.6","y":0},{"s":"q2","k":"g","m":"s","x":"44.6","y":0.003},{"s":"q2","k":"g","m":"s","x":"47.8","y":0.07},{"s":"q2","k":"g","m":"s","x":"51.4","y":0.17},{"s":"q2","k":"g","m":"s","x":"55","y":0.155},{"s":"q2","k":"g","m":"s","x":"58.6","y":0.065},{"s":"q2","k":"g","m":"s","x":"62.2","y":0.015},{"s":"q2","k":"g","m":"s","x":"65.8","y":0},
{"s":"q3","k":"g","m":"s","x":"40.6","y":0},{"s":"q3","k":"g","m":"s","x":"44.6","y":0.002},{"s":"q3","k":"g","m":"s","x":"47.8","y":0.06},{"s":"q3","k":"g","m":"s","x":"51.4","y":0.16},{"s":"q3","k":"g","m":"s","x":"55","y":0.15},{"s":"q3","k":"g","m":"s","x":"58.6","y":0.055},{"s":"q3","k":"g","m":"s","x":"62.2","y":0.03},{"s":"q3","k":"g","m":"s","x":"65.8","y":0},
{"s":"q4","k":"g","m":"s","x":"40.6","y":0.002},{"s":"q4","k":"g","m":"s","x":"44.6","y":0.02},{"s":"q4","k":"g","m":"s","x":"47.8","y":0.09},{"s":"q4","k":"g","m":"s","x":"51.4","y":0.15},{"s":"q4","k":"g","m":"s","x":"55","y":0.165},{"s":"q4","k":"g","m":"s","x":"58.6","y":0.04},{"s":"q4","k":"g","m":"s","x":"62.2","y":0.01},{"s":"q4","k":"g","m":"s","x":"65.8","y":0},
{"s":"Btu","k":"b","m":"tu","x":"37","y":0.003},{"s":"Btu","k":"b","m":"tu","x":"40.6","y":0.07},{"s":"Btu","k":"b","m":"tu","x":"44.6","y":0.188},{"s":"Btu","k":"b","m":"tu","x":"47.8","y":0.16},{"s":"Btu","k":"b","m":"tu","x":"51.4","y":0.06},{"s":"Btu","k":"b","m":"tu","x":"55","y":0.01},{"s":"Btu","k":"b","m":"tu","x":"58.6","y":0},{"s":"Btu","k":"b","m":"tu","x":"62.2","y":0},{"s":"Btu","k":"b","m":"tu","x":"65.8","y":0},{"s":"Btu","k":"b","m":"tu","x":"69.4","y":0},{"s":"Btu","k":"b","m":"tu","x":"73","y":0},
{"s":"Btd","k":"b","m":"td","x":"37","y":0.415},{"s":"Btd","k":"b","m":"td","x":"40.6","y":0.175},{"s":"Btd","k":"b","m":"td","x":"44.6","y":0.005},{"s":"Btd","k":"b","m":"td","x":"47.8","y":0},{"s":"Btd","k":"b","m":"td","x":"51.4","y":0},{"s":"Btd","k":"b","m":"td","x":"55","y":0},{"s":"Btd","k":"b","m":"td","x":"58.6","y":0},{"s":"Btd","k":"b","m":"td","x":"62.2","y":0},{"s":"Btd","k":"b","m":"td","x":"65.8","y":0},{"s":"Btd","k":"b","m":"td","x":"69.4","y":0},{"s":"Btd","k":"b","m":"td","x":"73","y":0},
{"s":"Bci","k":"b","m":"c","x":"37","y":0.997},{"s":"Bci","k":"b","m":"c","x":"40.6","y":0},{"s":"Bci","k":"b","m":"c","x":"44.6","y":0},{"s":"Bci","k":"b","m":"c","x":"47.8","y":0},{"s":"Bci","k":"b","m":"c","x":"51.4","y":0},{"s":"Bci","k":"b","m":"c","x":"55","y":0},{"s":"Bci","k":"b","m":"c","x":"58.6","y":0},{"s":"Bci","k":"b","m":"c","x":"62.2","y":0},{"s":"Bci","k":"b","m":"c","x":"65.8","y":0},{"s":"Bci","k":"b","m":"c","x":"69.4","y":0},{"s":"Bci","k":"b","m":"c","x":"73","y":0},
{"s":"Bsq","k":"b","m":"s","x":"37","y":0},{"s":"Bsq","k":"b","m":"s","x":"40.6","y":0},{"s":"Bsq","k":"b","m":"s","x":"44.6","y":0},{"s":"Bsq","k":"b","m":"s","x":"47.8","y":0.03},{"s":"Bsq","k":"b","m":"s","x":"51.4","y":0.12},{"s":"Bsq","k":"b","m":"s","x":"55","y":0.178},{"s":"Bsq","k":"b","m":"s","x":"58.6","y":0.12},{"s":"Bsq","k":"b","m":"s","x":"62.2","y":0.04},{"s":"Bsq","k":"b","m":"s","x":"65.8","y":0.005},{"s":"Bsq","k":"b","m":"s","x":"69.4","y":0},{"s":"Bsq","k":"b","m":"s","x":"73","y":0}
]
},
"columns": 2,
"spacing": {"row": 65, "column": 77},
"bounds": "flush",
"concat": [
{
 "width": 581, "height": 429,
 "data": {"name": "TL"},
 "title": {"text": "Larval Survivorship Range: 0.3-0.9", "anchor": "start", "frame": "group", "offset": -43, "dx": 8},
 "encoding": {"x": {"field": "x", "type": "ordinal", "scale": {"type": "band", "domain": ["37.0","40.6","44.6","47.8","51.4","55.0","58.6","62.2","65.8","69.4","73.0"], "paddingInner": 0, "paddingOuter": 0}, "axis": {"title": "Egg Size (microns)", "labelAngle": 0, "tickBand": "extent", "tickSize": 5, "labelPadding": 3, "titlePadding": 1}}},
 "layer": [
  {"transform": [{"filter": "datum.k == 'g'"}], "mark": {"type": "line", "color": "#999999", "strokeWidth": 1}, "encoding": {"detail": {"field": "s"}, "y": {"field": "y", "type": "quantitative", "scale": {"domain": [0, 0.3], "nice": false}, "axis": {"orient": "left", "values": [0,0.05,0.1,0.15,0.2,0.25,0.3], "format": ".2f", "title": "Fraction of Population", "tickSize": 4, "titlePadding": 3}}}},
  {"transform": [{"filter": "datum.k == 'g'"}], "mark": {"type": "point", "filled": false, "color": "#707070", "size": 32, "strokeWidth": 1}, "encoding": {"shape": {"field": "m", "scale": {"domain": ["c","s","tu","td"], "range": ["circle","square","triangle-up","triangle-down"]}, "legend": null}, "y": {"field": "y", "type": "quantitative", "scale": {"domain": [0, 0.3], "nice": false}, "axis": {"orient": "left", "values": [0.01,0.02,0.03,0.04,0.06,0.07,0.08,0.09,0.11,0.12,0.13,0.14,0.16,0.17,0.18,0.19,0.21,0.22,0.23,0.24,0.26,0.27,0.28,0.29], "labels": false, "domain": false, "title": null, "tickSize": 2}}}},
  {"transform": [{"filter": "datum.k == 'b'"}], "mark": {"type": "line", "color": "black", "strokeWidth": 3}, "encoding": {"detail": {"field": "s"}, "y": {"field": "y", "type": "quantitative", "scale": {"domain": [0, 0.3], "nice": false}, "axis": null}}},
  {"transform": [{"filter": "datum.k == 'b'"}], "mark": {"type": "point", "filled": true, "color": "black", "size": 80, "opacity": 1}, "encoding": {"shape": {"field": "m", "scale": {"domain": ["c","s","tu","td"], "range": ["circle","square","triangle-up","triangle-down"]}, "legend": null}, "y": {"field": "y", "type": "quantitative", "scale": {"domain": [0, 0.3], "nice": false}, "axis": null}}}
 ],
 "resolve": {"axis": {"y": "independent"}}
},
{
 "width": 581, "height": 429,
 "data": {"name": "TR"},
 "title": {"text": "Larval Survivorship Range: 0.1-0.4", "anchor": "start", "frame": "group", "offset": -43, "dx": 13},
 "encoding": {"x": {"field": "x", "type": "ordinal", "scale": {"type": "band", "domain": ["37.0","40.6","44.6","47.8","51.4","55.0","58.6","62.2","65.8","69.4","73.0"], "paddingInner": 0, "paddingOuter": 0}, "axis": {"title": "Egg Size (microns)", "labelAngle": 0, "tickBand": "extent", "tickSize": 5, "labelPadding": 3, "titlePadding": 1}}},
 "layer": [
  {"transform": [{"filter": "datum.k == 'g'"}], "mark": {"type": "line", "color": "#999999", "strokeWidth": 1}, "encoding": {"detail": {"field": "s"}, "y": {"field": "y", "type": "quantitative", "scale": {"domain": [0, 0.8], "nice": false}, "axis": {"orient": "left", "values": [0,0.1,0.2,0.3,0.4,0.5,0.6,0.7,0.8], "format": ".2f", "title": "Fraction of Population", "tickSize": 4, "titlePadding": 3}}}},
  {"transform": [{"filter": "datum.k == 'g'"}], "mark": {"type": "point", "filled": false, "color": "#707070", "size": 32, "strokeWidth": 1}, "encoding": {"shape": {"field": "m", "scale": {"domain": ["c","s","tu","td"], "range": ["circle","square","triangle-up","triangle-down"]}, "legend": null}, "y": {"field": "y", "type": "quantitative", "scale": {"domain": [0, 0.8], "nice": false}, "axis": {"orient": "left", "values": [0.02,0.04,0.06,0.08,0.12,0.14,0.16,0.18,0.22,0.24,0.26,0.28,0.32,0.34,0.36,0.38,0.42,0.44,0.46,0.48,0.52,0.54,0.56,0.58,0.62,0.64,0.66,0.68,0.72,0.74,0.76,0.78], "labels": false, "domain": false, "title": null, "tickSize": 2}}}},
  {"transform": [{"filter": "datum.k == 'b'"}], "mark": {"type": "line", "color": "black", "strokeWidth": 3}, "encoding": {"detail": {"field": "s"}, "y": {"field": "y", "type": "quantitative", "scale": {"domain": [0, 0.8], "nice": false}, "axis": null}}},
  {"transform": [{"filter": "datum.k == 'b'"}], "mark": {"type": "point", "filled": true, "color": "black", "size": 80, "opacity": 1}, "encoding": {"shape": {"field": "m", "scale": {"domain": ["c","s","tu","td"], "range": ["circle","square","triangle-up","triangle-down"]}, "legend": null}, "y": {"field": "y", "type": "quantitative", "scale": {"domain": [0, 0.8], "nice": false}, "axis": null}}}
 ],
 "resolve": {"axis": {"y": "independent"}}
},
{
 "width": 581, "height": 429,
 "data": {"name": "BL"},
 "title": {"text": "Larval Survivorship Range: 0.0-1.0", "anchor": "start", "frame": "group", "offset": -43, "dx": 8},
 "encoding": {"x": {"field": "x", "type": "ordinal", "scale": {"type": "band", "domain": ["37","40.6","44.6","47.8","51.4","55","58.6","62.2","65.8","69.4","73"], "paddingInner": 0, "paddingOuter": 0}, "axis": {"title": "Egg Size (microns)", "labelAngle": 0, "tickBand": "extent", "tickSize": 5, "labelPadding": 3, "titlePadding": 1}}},
 "layer": [
  {"transform": [{"filter": "datum.k == 'g'"}], "mark": {"type": "line", "color": "#999999", "strokeWidth": 1}, "encoding": {"detail": {"field": "s"}, "y": {"field": "y", "type": "quantitative", "scale": {"domain": [0, 0.9], "nice": false}, "axis": {"orient": "left", "values": [0,0.1,0.2,0.3,0.4,0.5,0.6,0.7,0.8,0.9], "format": ".2f", "title": "Fraction of Population", "tickSize": 4, "titlePadding": 3}}}},
  {"transform": [{"filter": "datum.k == 'g'"}], "mark": {"type": "point", "filled": false, "color": "#707070", "size": 32, "strokeWidth": 1}, "encoding": {"shape": {"field": "m", "scale": {"domain": ["c","s","tu","td"], "range": ["circle","square","triangle-up","triangle-down"]}, "legend": null}, "y": {"field": "y", "type": "quantitative", "scale": {"domain": [0, 0.9], "nice": false}, "axis": {"orient": "left", "values": [0.02,0.04,0.06,0.08,0.12,0.14,0.16,0.18,0.22,0.24,0.26,0.28,0.32,0.34,0.36,0.38,0.42,0.44,0.46,0.48,0.52,0.54,0.56,0.58,0.62,0.64,0.66,0.68,0.72,0.74,0.76,0.78,0.82,0.84,0.86,0.88], "labels": false, "domain": false, "title": null, "tickSize": 2}}}},
  {"transform": [{"filter": "datum.k == 'b'"}], "mark": {"type": "line", "color": "black", "strokeWidth": 3}, "encoding": {"detail": {"field": "s"}, "y": {"field": "y", "type": "quantitative", "scale": {"domain": [0, 0.9], "nice": false}, "axis": null}}},
  {"transform": [{"filter": "datum.k == 'b'"}], "mark": {"type": "point", "filled": true, "color": "black", "size": 80, "opacity": 1}, "encoding": {"shape": {"field": "m", "scale": {"domain": ["c","s","tu","td"], "range": ["circle","square","triangle-up","triangle-down"]}, "legend": null}, "y": {"field": "y", "type": "quantitative", "scale": {"domain": [0, 0.9], "nice": false}, "axis": null}}}
 ],
 "resolve": {"axis": {"y": "independent"}}
},
{
 "width": 581, "height": 429,
 "data": {"name": "BR"},
 "title": {"text": "Larval Survivorship Range: 0.4-0.6", "anchor": "end", "frame": "group", "offset": -39, "dx": -12},
 "encoding": {"x": {"field": "x", "type": "ordinal", "scale": {"type": "band", "domain": ["37","40.6","44.6","47.8","51.4","55","58.6","62.2","65.8","69.4","73"], "paddingInner": 0, "paddingOuter": 0}, "axis": {"title": "Egg Size (microns)", "labelAngle": 0, "tickBand": "extent", "tickSize": 5, "labelPadding": 3, "titlePadding": 1}}},
 "layer": [
  {"transform": [{"filter": "datum.k == 'g'"}], "mark": {"type": "line", "color": "#999999", "strokeWidth": 1}, "encoding": {"detail": {"field": "s"}, "y": {"field": "y", "type": "quantitative", "scale": {"domain": [0, 1], "nice": false}, "axis": {"orient": "left", "values": [0,0.1,0.2,0.3,0.4,0.5,0.6,0.7,0.8,0.9,1], "format": ".2f", "title": "Fraction of Population", "tickSize": 4, "titlePadding": 3}}}},
  {"transform": [{"filter": "datum.k == 'g'"}], "mark": {"type": "point", "filled": false, "color": "#707070", "size": 32, "strokeWidth": 1}, "encoding": {"shape": {"field": "m", "scale": {"domain": ["c","s","tu","td"], "range": ["circle","square","triangle-up","triangle-down"]}, "legend": null}, "y": {"field": "y", "type": "quantitative", "scale": {"domain": [0, 1], "nice": false}, "axis": {"orient": "left", "values": [0.02,0.04,0.06,0.08,0.12,0.14,0.16,0.18,0.22,0.24,0.26,0.28,0.32,0.34,0.36,0.38,0.42,0.44,0.46,0.48,0.52,0.54,0.56,0.58,0.62,0.64,0.66,0.68,0.72,0.74,0.76,0.78,0.82,0.84,0.86,0.88,0.92,0.94,0.96,0.98], "labels": false, "domain": false, "title": null, "tickSize": 2}}}},
  {"transform": [{"filter": "datum.k == 'b'"}], "mark": {"type": "line", "color": "black", "strokeWidth": 3}, "encoding": {"detail": {"field": "s"}, "y": {"field": "y", "type": "quantitative", "scale": {"domain": [0, 1], "nice": false}, "axis": null}}},
  {"transform": [{"filter": "datum.k == 'b'"}], "mark": {"type": "point", "filled": true, "color": "black", "size": 80, "opacity": 1}, "encoding": {"shape": {"field": "m", "scale": {"domain": ["c","s","tu","td"], "range": ["circle","square","triangle-up","triangle-down"]}, "legend": null}, "y": {"field": "y", "type": "quantitative", "scale": {"domain": [0, 1], "nice": false}, "axis": null}}}
 ],
 "resolve": {"axis": {"y": "independent"}}
}
]
}
